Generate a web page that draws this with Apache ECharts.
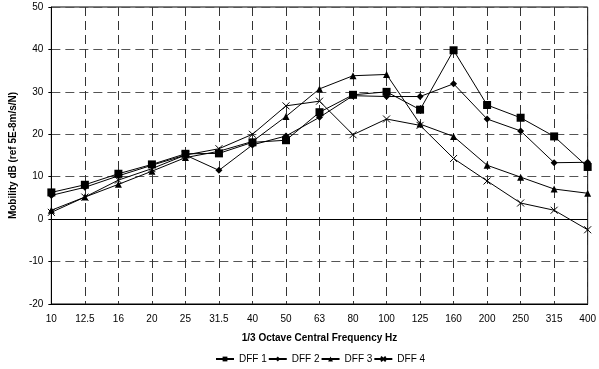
<!DOCTYPE html>
<html>
<head>
<meta charset="utf-8">
<script src="https://cdn.jsdelivr.net/npm/echarts@6/dist/echarts.min.js"></script>
<style>
html,body{margin:0;padding:0;background:#fff;}
#chart{width:599px;height:369px;}
</style>
</head>
<body>
<div id="chart"></div>
<script>
const categories = ['10','12.5','16','20','25','31.5','40','50','63','80','100','125','160','200','250','315','400'];
const dff1 = [6.3, 8.1, 10.7, 12.9, 15.4, 15.5, 18.1, 18.6, 25.2, 29.3, 30.0, 25.8, 39.8, 26.9, 23.9, 19.5, 12.3];
const dff2 = [5.6, 7.5, 10.2, 12.7, 15.1, 11.5, 17.5, 19.6, 24.0, 29.1, 28.9, 28.9, 31.9, 23.6, 20.8, 13.3, 13.4];
const dff3 = [2.1, 5.2, 8.2, 11.3, 14.5, 16.0, 18.3, 24.2, 30.7, 33.8, 34.1, 22.4, 19.5, 12.7, 9.9, 7.1, 6.1];
const dff4 = [1.6, 5.2, 9.2, 11.9, 15.1, 16.6, 20.0, 26.7, 27.8, 19.9, 23.6, 22.1, 14.3, 9.0, 3.8, 2.1, -2.5];
const seriesNames = ['DFF 1','DFF 2','DFF 3','DFF 4'];
const yTicks = {min: -20, max: 50, interval: 10};

const font = '"Liberation Sans", Arial, sans-serif';
const crossPath = 'path://M0,0L10,10M10,0L0,10';

function mk(name, data, symbol, size, extra) {
  return Object.assign({
    name: name,
    type: 'line',
    data: data,
    symbol: symbol,
    symbolSize: size,
    showAllSymbol: true,
    animation: false,
    lineStyle: {color: '#000', width: 1},
    itemStyle: {color: '#000', borderColor: '#000', borderWidth: 0},
    z: 5
  }, extra || {});
}

const chart = echarts.init(document.getElementById('chart'), null, {renderer: 'canvas'});
chart.setOption({
  animation: false,
  backgroundColor: '#fff',
  textStyle: {fontFamily: font},
  grid: {left: 43, right: 6, top: 7, bottom: 65, show: true, borderColor: '#000', borderWidth: 1, backgroundColor: 'transparent'},
  legend: {
    data: seriesNames,
    top: 354,
    left: 215,
    padding: 0,
    itemWidth: 18,
    itemHeight: 6,
    itemGap: 1,
    textStyle: {fontFamily: font, fontSize: 10, color: '#000'}
  },
  xAxis: {
    type: 'category',
    data: categories,
    boundaryGap: false,
    name: '1/3 Octave Central Frequency Hz',
    nameLocation: 'middle',
    nameGap: 29,
    nameTextStyle: {fontFamily: font, fontSize: 10, fontWeight: 'bold', color: '#000'},
    axisLine: {onZero: false, lineStyle: {color: '#000', width: 1}},
    axisTick: {show: false},
    axisLabel: {fontFamily: font, fontSize: 10, color: '#000', margin: 10, interval: 0},
    splitLine: {show: true, interval: 0, lineStyle: {color: '#333', type: [9, 5], width: 1}}
  },
  yAxis: {
    type: 'value',
    min: yTicks.min,
    max: yTicks.max,
    interval: yTicks.interval,
    name: 'Mobility dB (ref 5E-8m/s/N)',
    nameLocation: 'middle',
    nameGap: 32,
    nameTextStyle: {fontFamily: font, fontSize: 10, fontWeight: 'bold', color: '#000'},
    axisLine: {show: true, lineStyle: {color: '#000', width: 1}},
    axisTick: {show: true, length: 3, lineStyle: {color: '#000'}},
    axisLabel: {fontFamily: font, fontSize: 10, color: '#000', margin: 8},
    splitLine: {show: true, lineStyle: {color: '#555', type: [9, 5], width: 1}}
  },
  series: [
    mk(seriesNames[0], dff1, 'rect', 8, {
      markLine: {
        silent: true, symbol: 'none', animation: false,
        label: {show: false},
        lineStyle: {color: '#000', type: 'solid', width: 1},
        data: [{yAxis: 0}]
      }
    }),
    mk(seriesNames[1], dff2, 'diamond', 7),
    mk(seriesNames[2], dff3, 'triangle', 7),
    mk(seriesNames[3], dff4, crossPath, 7, {itemStyle: {color: 'none', borderColor: '#000', borderWidth: 1}})
  ]
});
</script>
</body>
</html>
